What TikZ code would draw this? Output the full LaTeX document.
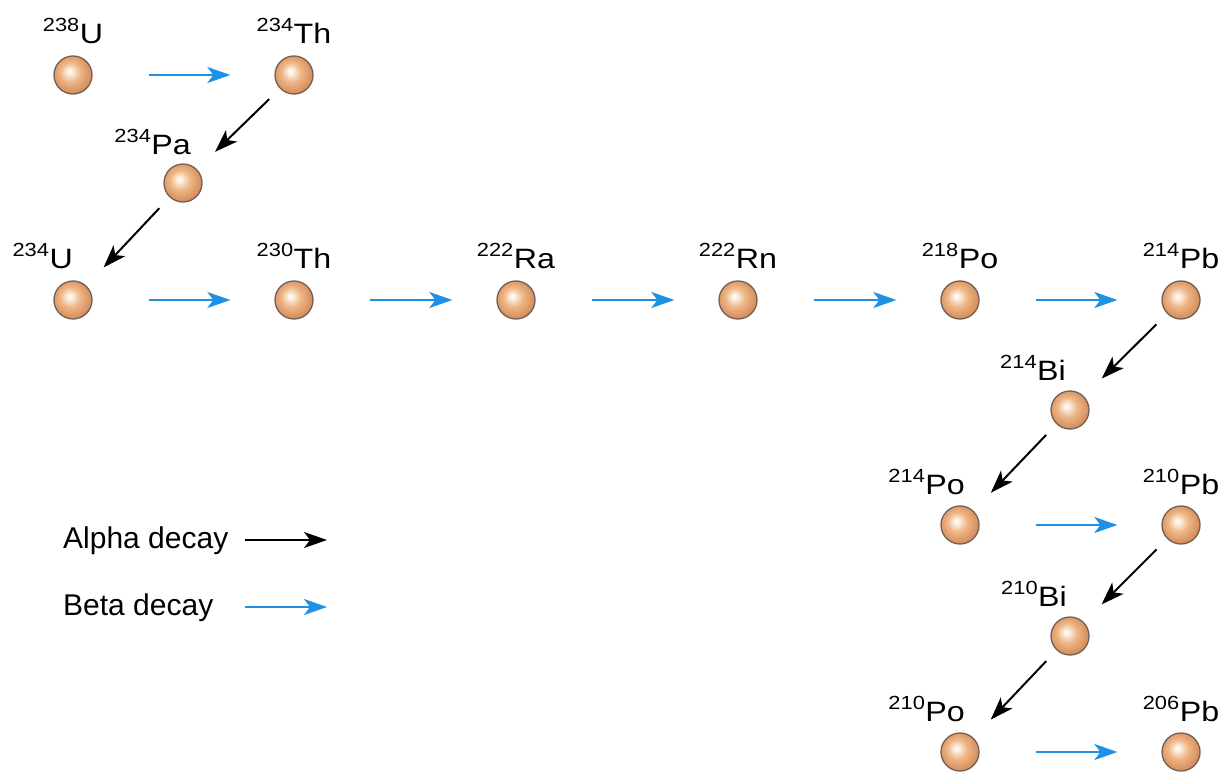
\documentclass[tikz,border=0pt]{standalone}
\usepackage{fontspec}
\setmainfont{Liberation Sans}
\newfontfamily\widesans[FakeStretch=1.15]{Liberation Sans}
\usetikzlibrary{arrows.meta}
\definecolor{betablue}{RGB}{30,144,230}
\definecolor{orbline}{RGB}{115,95,85}
\definecolor{orbhi}{RGB}{255,248,240}
\definecolor{orbmid}{RGB}{238,182,135}
\definecolor{orbdark}{RGB}{214,142,92}
\pgfdeclareradialshading{orb}{\pgfqpoint{-5bp}{5bp}}{color(0bp)=(orbhi); color(2bp)=(orbhi); color(13bp)=(orbmid); color(26bp)=(orbdark); color(50bp)=(orbdark)}
\newcommand{\iso}[2]{{\fontsize{19}{19}\selectfont\raisebox{12pt}{#1}}\kern0.5pt#2}
\begin{document}
\begin{tikzpicture}[x=1pt,y=-1pt,
  nuclide/.style={circle,minimum size=38pt,inner sep=0pt,draw=orbline,line width=1.3pt,shading=orb},
  isolabel/.style={font=\widesans\fontsize{28}{28}\selectfont,inner sep=0pt,anchor=base},
  isolabelleft/.style={isolabel,anchor=base east},
  decayarrow/.style={-{Stealth[length=23pt,width=16pt,inset=6pt]},line width=2pt},
  alphaarrow/.style={decayarrow,black,shorten <=15pt,shorten >=25pt},
  betaarrow/.style={decayarrow,betablue,shorten <=56pt,shorten >=44pt},
  legendtext/.style={font=\fontsize{30}{30}\selectfont,inner sep=0pt,anchor=base west}]
\useasboundingbox[fill=white] (0,0) rectangle (1229,778);
% nuclides
\node[nuclide] (u238)  at (73,75) {};
\node[nuclide] (th234) at (294,75) {};
\node[nuclide] (pa234) at (183,183) {};
\node[nuclide] (u234)  at (73,300) {};
\node[nuclide] (th230) at (294,300) {};
\node[nuclide] (ra222) at (516,300) {};
\node[nuclide] (rn222) at (738,300) {};
\node[nuclide] (po218) at (960,300) {};
\node[nuclide] (pb214) at (1181,300) {};
\node[nuclide] (bi214) at (1070,410) {};
\node[nuclide] (po214) at (960,525) {};
\node[nuclide] (pb210) at (1181,525) {};
\node[nuclide] (bi210) at (1070,636) {};
\node[nuclide] (po210) at (960,752) {};
\node[nuclide] (pb206) at (1181,752) {};
% labels
\node[isolabel] (u238t)  at ([yshift=31pt]u238.center)  {\iso{238}{U}};
\node[isolabel] (th234t) at ([yshift=31pt]th234.center) {\iso{234}{Th}};
\node[isolabelleft] (pa234t) at ([xshift=8pt,yshift=28pt]pa234.center) {\iso{234}{Pa}};
\node[isolabelleft] (u234t)  at ([xshift=0pt,yshift=31pt]u234.center)  {\iso{234}{U}};
\node[isolabel] (th230t) at ([yshift=31pt]th230.center) {\iso{230}{Th}};
\node[isolabel] (ra222t) at ([yshift=31pt]ra222.center) {\iso{222}{Ra}};
\node[isolabel] (rn222t) at ([yshift=31pt]rn222.center) {\iso{222}{Rn}};
\node[isolabel] (po218t) at ([yshift=31pt]po218.center) {\iso{218}{Po}};
\node[isolabel] (pb214t) at ([yshift=31pt]pb214.center) {\iso{214}{Pb}};
\node[isolabelleft] (bi214t) at ([xshift=-4pt,yshift=30pt]bi214.center) {\iso{214}{Bi}};
\node[isolabelleft] (po214t) at ([xshift=5pt,yshift=31pt]po214.center) {\iso{214}{Po}};
\node[isolabel] (pb210t) at ([yshift=31pt]pb210.center) {\iso{210}{Pb}};
\node[isolabelleft] (bi210t) at ([xshift=-3pt,yshift=30pt]bi210.center) {\iso{210}{Bi}};
\node[isolabelleft] (po210t) at ([xshift=5pt,yshift=31pt]po210.center) {\iso{210}{Po}};
\node[isolabel] (pb206t) at ([yshift=31pt]pb206.center) {\iso{206}{Pb}};
% decays
\draw[betaarrow]  (u238) -- (th234);
\draw[alphaarrow] (th234) -- (pa234);
\draw[alphaarrow] (pa234) -- (u234);
\draw[betaarrow]  (u234) -- (th230);
\draw[betaarrow]  (th230) -- (ra222);
\draw[betaarrow]  (ra222) -- (rn222);
\draw[betaarrow]  (rn222) -- (po218);
\draw[betaarrow]  (po218) -- (pb214);
\draw[alphaarrow] (pb214) -- (bi214);
\draw[alphaarrow] (bi214) -- (po214);
\draw[betaarrow]  (po214) -- (pb210);
\draw[alphaarrow] (pb210) -- (bi210);
\draw[alphaarrow] (bi210) -- (po210);
\draw[betaarrow]  (po210) -- (pb206);
% legend
\node[legendtext] (alphalab) at (63,548) {Alpha decay};
\node[legendtext] (betalab)  at (63,615) {Beta decay};
\coordinate (alphastart) at (245,540);
\coordinate (alphaend)   at (327,540);
\coordinate (betastart)  at (245,607);
\coordinate (betaend)    at (327,607);
\draw[decayarrow,black]    (alphastart) -- (alphaend);
\draw[decayarrow,betablue] (betastart) -- (betaend);
\end{tikzpicture}
\end{document}
